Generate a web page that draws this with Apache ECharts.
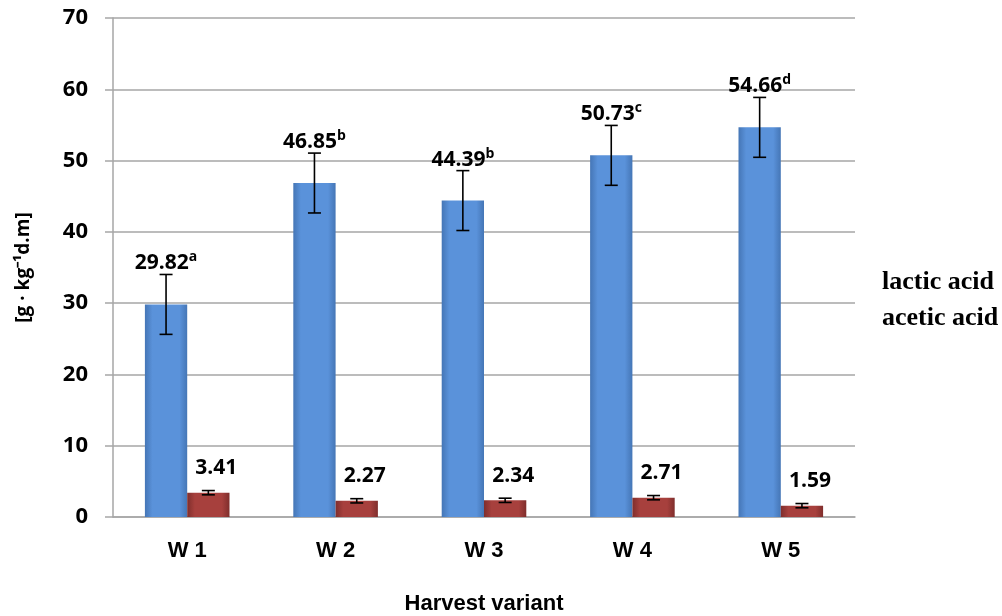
<!DOCTYPE html>
<html>
<head>
<meta charset="utf-8">
<script src="https://cdn.jsdelivr.net/npm/echarts@6/dist/echarts.min.js"></script>
<style>html,body{margin:0;padding:0;background:#fff;}#c{width:1002px;height:616px;}</style>
</head>
<body>
<div id="c"></div>
<script>
const categories = ['W 1', 'W 2', 'W 3', 'W 4', 'W 5'];
const lactic = [29.82, 46.85, 44.39, 50.73, 54.66];
const lacticErr = [4.2, 4.2, 4.2, 4.2, 4.2];
const lacticLetters = ['a', 'b', 'b', 'c', 'd'];
const acetic = [3.41, 2.27, 2.34, 2.71, 1.59];
const aceticErr = [0.3, 0.3, 0.3, 0.3, 0.3];
const yTicks = [0, 10, 20, 30, 40, 50, 60, 70];
const seriesNames = ['lactic acid', 'acetic acid'];

const BAR_FRAC = 0.285;
const chart = echarts.init(document.getElementById('c'));

function errRender(side, withLabel) {
  return function (params, api) {
    const i = api.value(0), v = api.value(1), e = api.value(2);
    const band = api.size([1, 0])[0];
    const w = band * BAR_FRAC;
    const x = api.coord([i, v])[0] + side * w / 2;
    const top = api.coord([i, v + e])[1];
    const bot = api.coord([i, v - e])[1];
    const cap = 6.5;
    const st = { stroke: '#000', lineWidth: 1.6 };
    const children = [
      { type: 'line', shape: { x1: x, y1: top, x2: x, y2: bot }, style: st },
      { type: 'line', shape: { x1: x - cap, y1: top, x2: x + cap, y2: top }, style: st },
      { type: 'line', shape: { x1: x - cap, y1: bot, x2: x + cap, y2: bot }, style: st }
    ];
    if (withLabel) {
      children.push({
        type: 'text',
        style: {
          text: '{v|' + lactic[i].toFixed(2) + '}{s|' + lacticLetters[i] + '}',
          x: x, y: top + 2,
          align: 'center', verticalAlign: 'bottom',
          rich: {
            v: { fontFamily: 'Open Sans', fontWeight: 'bold', fontSize: 21, fill: '#000', lineHeight: 26 },
            s: { fontFamily: 'Open Sans', fontWeight: 'bold', fontSize: 14, fill: '#000', verticalAlign: 'top', lineHeight: 26 }
          }
        },
        z2: 10
      });
    }
    return { type: 'group', children: children };
  };
}

const blueGrad = new echarts.graphic.LinearGradient(0, 0, 1, 0, [
  { offset: 0, color: '#4576b6' }, { offset: 0.18, color: '#5a92da' },
  { offset: 0.82, color: '#5a92da' }, { offset: 1, color: '#4576b6' }
]);
const redGrad = new echarts.graphic.LinearGradient(0, 0, 1, 0, [
  { offset: 0, color: '#7f2e2c' }, { offset: 0.18, color: '#a7403d' },
  { offset: 0.82, color: '#a7403d' }, { offset: 1, color: '#7f2e2c' }
]);

chart.setOption({
  animation: false,
  backgroundColor: '#fff',
  grid: { left: 113, right: 147, top: 18, bottom: 99, containLabel: false, outerBoundsMode: 'none' },
  legend: {
    orient: 'vertical', left: 872, top: 264, itemGap: 10,
    itemWidth: 0, itemHeight: 0, icon: 'rect',
    data: seriesNames,
    textStyle: { fontFamily: 'Liberation Serif', fontWeight: 'bold', fontSize: 26, color: '#000' }
  },
  xAxis: {
    type: 'category', data: categories,
    axisTick: { show: false },
    axisLine: { lineStyle: { color: '#a6a6a6', width: 1.5 } },
    axisLabel: { margin: 23, color: '#000', fontFamily: 'Liberation Sans', fontWeight: 'bold', fontSize: 22 },
    name: 'Harvest variant', nameLocation: 'middle', nameGap: 76,
    nameTextStyle: { color: '#000', fontFamily: 'Liberation Sans', fontWeight: 'bold', fontSize: 22 }
  },
  yAxis: {
    type: 'value', min: yTicks[0], max: yTicks[yTicks.length - 1], interval: 10,
    axisLine: { show: true, lineStyle: { color: '#a6a6a6', width: 1.5 } },
    axisTick: { show: true, length: 8, lineStyle: { color: '#a6a6a6', width: 1.5 } },
    splitLine: { lineStyle: { color: '#a6a6a6', width: 1.5 } },
    axisLabel: { margin: 25, color: '#000', fontFamily: 'Open Sans', fontWeight: 'bold', fontSize: 22 },
    name: '[g · kg⁻¹d.m]', nameLocation: 'middle', nameGap: 80,
    nameTextStyle: { color: '#000', fontFamily: 'Open Sans', fontWeight: 'bold', fontSize: 19 }
  },
  series: [
    {
      name: seriesNames[0], type: 'bar', data: lactic,
      barWidth: (BAR_FRAC * 100) + '%', barGap: '0%',
      itemStyle: { color: blueGrad }
    },
    {
      name: seriesNames[1], type: 'bar', data: acetic,
      barWidth: (BAR_FRAC * 100) + '%', barGap: '0%',
      itemStyle: { color: redGrad },
      label: {
        show: true, position: 'top', distance: 14, offset: [8, 0],
        formatter: p => p.value.toFixed(2),
        fontFamily: 'Open Sans', fontWeight: 'bold', fontSize: 21, color: '#000'
      }
    },
    {
      type: 'custom', renderItem: errRender(-1, true),
      data: lactic.map((v, i) => [i, v, lacticErr[i]]),
      encode: { x: 0, y: 1 }, z: 5, silent: true
    },
    {
      type: 'custom', renderItem: errRender(1, false),
      data: acetic.map((v, i) => [i, v, aceticErr[i]]),
      encode: { x: 0, y: 1 }, z: 5, silent: true
    }
  ]
});
</script>
</body>
</html>
